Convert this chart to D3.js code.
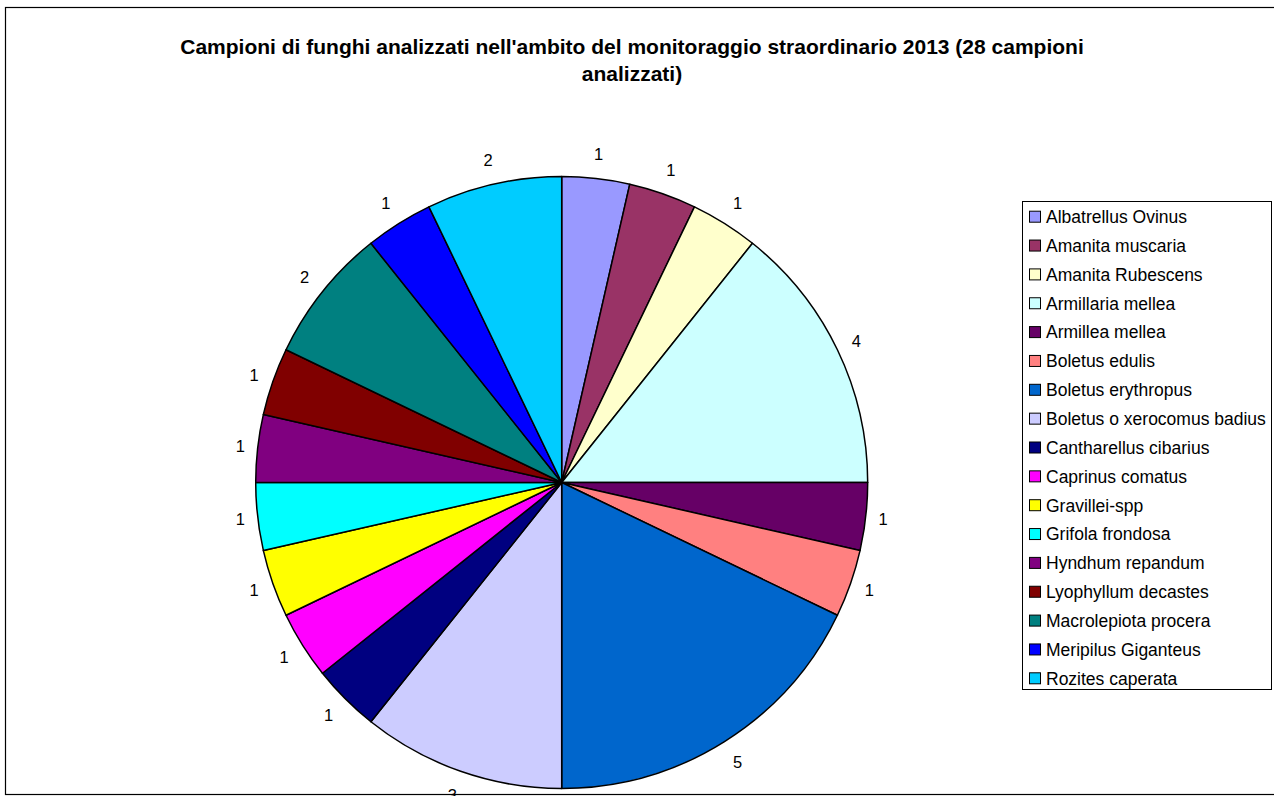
<!DOCTYPE html>
<html>
<head>
<meta charset="utf-8">
<script src="https://cdn.jsdelivr.net/npm/d3@7"></script>
<style>
  html, body { margin: 0; padding: 0; background: #fff; overflow: hidden; }
  svg { display: block; font-family: "Liberation Sans", Arial, sans-serif; }
</style>
</head>
<body>
<svg id="chart" width="1274" height="796"></svg>
<script>
const titleLines = [
  "Campioni di funghi analizzati nell'ambito del monitoraggio straordinario 2013 (28 campioni",
  "analizzati)"
];
const categories = [
  "Albatrellus Ovinus", "Amanita muscaria", "Amanita Rubescens", "Armillaria mellea",
  "Armillea mellea", "Boletus edulis", "Boletus erythropus", "Boletus o xerocomus badius",
  "Cantharellus cibarius", "Caprinus comatus", "Gravillei-spp", "Grifola frondosa",
  "Hyndhum repandum", "Lyophyllum decastes", "Macrolepiota procera", "Meripilus Giganteus",
  "Rozites caperata"
];
const values = [1, 1, 1, 4, 1, 1, 5, 3, 1, 1, 1, 1, 1, 1, 2, 1, 2];
const colors = [
  "#9999FF", "#993366", "#FFFFCC", "#CCFFFF",
  "#660066", "#FF8080", "#0066CC", "#CCCCFF",
  "#000080", "#FF00FF", "#FFFF00", "#00FFFF",
  "#800080", "#800000", "#008080", "#0000FF",
  "#00CCFF"
];

const svg = d3.select("#chart");

// chart area border
svg.append("rect")
  .attr("x", 5.5).attr("y", 7.5)
  .attr("width", 1400).attr("height", 787)
  .attr("fill", "#fff").attr("stroke", "#000").attr("stroke-width", 1.2);

// title
const title = svg.append("text")
  .attr("text-anchor", "middle")
  .attr("font-weight", "bold")
  .attr("font-size", 21)
  .attr("fill", "#000");
titleLines.forEach((t, i) => {
  title.append("tspan").attr("x", 632).attr("y", 54 + i * 27).text(t);
});

// pie
const cx = 561.7, cy = 482.5, r = 306;
const color = d3.scaleOrdinal().domain(categories).range(colors);
const pie = d3.pie().sort(null).value(d => d.value);
const data = categories.map((c, i) => ({ name: c, value: values[i] }));
const arcs = pie(data);
const arc = d3.arc().innerRadius(0).outerRadius(r);

const g = svg.append("g").attr("transform", `translate(${cx},${cy})`);
g.selectAll("path.slice")
  .data(arcs)
  .join("path")
  .attr("class", "slice")
  .attr("d", arc)
  .attr("fill", d => color(d.data.name))
  .attr("stroke", "#000")
  .attr("stroke-width", 1.5)
  .attr("stroke-linejoin", "round");

// data labels
g.selectAll("text.lbl")
  .data(arcs)
  .join("text")
  .attr("class", "lbl")
  .attr("text-anchor", "middle")
  .attr("dy", "0.36em")
  .attr("font-size", 16.5)
  .attr("fill", "#000")
  .attr("transform", d => {
    const a = (d.startAngle + d.endAngle) / 2;
    const s = Math.sin(a), c = Math.cos(a);
    const R = r + 11.5 + 4.5 * Math.abs(s) + 12.5 * Math.abs(c);
    return `translate(${R * s},${-R * c})`;
  })
  .text(d => d.data.value);

// legend
const lx = 1022.5, ly = 201.5, lw = 249, lh = 488;
const legend = svg.append("g");
legend.append("rect")
  .attr("x", lx).attr("y", ly).attr("width", lw).attr("height", lh)
  .attr("fill", "#fff").attr("stroke", "#000").attr("stroke-width", 1);
const rowY = d3.scalePoint().domain(categories).range([216.7, 678.3]);
const items = legend.selectAll("g.item")
  .data(categories)
  .join("g")
  .attr("class", "item")
  .attr("transform", d => `translate(0,${rowY(d)})`);
items.append("rect")
  .attr("x", 1029.5).attr("y", -5.5).attr("width", 11).attr("height", 11)
  .attr("fill", d => color(d))
  .attr("stroke", "#000").attr("stroke-width", 1);
items.append("text")
  .attr("x", 1046).attr("dy", "0.36em")
  .attr("font-size", 17.5)
  .attr("fill", "#000")
  .text(d => d);
</script>
</body>
</html>
